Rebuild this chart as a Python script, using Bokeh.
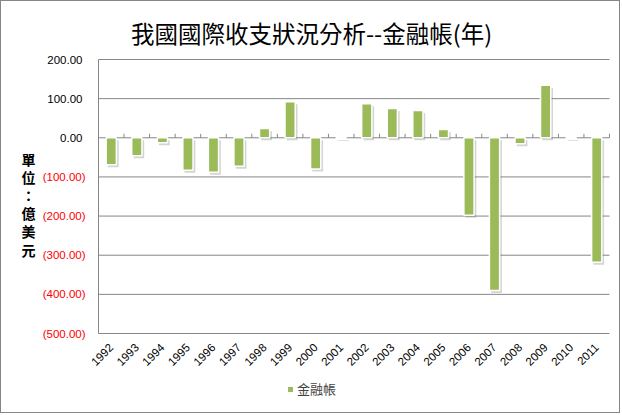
from bokeh.plotting import figure
from bokeh.models import Range1d, Legend, LegendItem
from bokeh.embed import file_html
from bokeh.resources import INLINE
from bokeh.core.properties import value
import math

years = ["1992", "1993", "1994", "1995", "1996", "1997", "1998", "1999", "2000", "2001",
         "2002", "2003", "2004", "2005", "2006", "2007", "2008", "2009", "2010", "2011"]
finance = [-69, -46, -13, -83, -88, -73, 24, 92, -80, -2,
           87, 75, 70, 21, -198, -390, -15, 134, -2, -318]
y_ticks = [200, 100, 0, -100, -200, -300, -400, -500]
y_tick_labels = ["200.00", "100.00", "0.00", "(100.00)", "(200.00)", "(300.00)", "(400.00)", "(500.00)"]
title_text = "我國國際收支狀況分析--金融帳(年)"
y_title = "單位：億美元"
series_name = "金融帳"

GREEN = "#9BBB59"
GRID = "#868686"
FONT = "Liberation Sans"
CJK = "Noto Sans CJK TC"

# canvas layout (pixels) of the plotting area
W, H = 620, 413
LEFT, RIGHT, TOP, BOTTOM = 97, 608, 58, 332
n = len(years)
ymax, ymin = max(y_ticks), min(y_ticks)
PX_X = (RIGHT - LEFT) / n
PX_Y = (BOTTOM - TOP) / (ymax - ymin)


def cx(px):
    return (px - LEFT) / PX_X


def cy(py):
    return ymax - (py - TOP) / PX_Y


p = figure(width=W, height=H, x_range=Range1d(cx(0), cx(W)), y_range=Range1d(cy(H), cy(0)),
           output_backend="svg", toolbar_location=None,
           x_axis_location=None, y_axis_location=None,
           min_border=0, min_border_left=0, min_border_right=0,
           min_border_top=0, min_border_bottom=0,
           background_fill_color="white", border_fill_color="white")
p.styles = {"border": "1px solid #868686"}
p.outline_line_color = None
p.xgrid.visible = False
p.ygrid.visible = False

# gridlines and axis line
p.segment(x0=[0] * len(y_ticks), x1=[n] * len(y_ticks), y0=y_ticks, y1=y_ticks,
          line_color=GRID, line_width=1)
p.segment(x0=[0], x1=[0], y0=[ymin], y1=[ymax], line_color=GRID, line_width=1)
bounds = list(range(1, n + 1))
p.segment(x0=bounds, y0=[0] * n, x1=bounds, y1=[4 / PX_Y] * n, line_color=GRID, line_width=1)

xs = [i + 0.5 for i in range(n)]
sh = 2.5 / PX_Y
src = dict(x=xs, sx=[x + 2 / PX_X for x in xs], v=finance, z=[0] * n,
           st=[max(v, 0) - sh for v in finance], sb=[min(v, 0) - sh for v in finance])

p.vbar(x="sx", top="st", bottom="sb", width=0.42, source=src,
       fill_color="#6f6f6f", fill_alpha=0.3, line_color=None)
bars = p.vbar(x="x", top="v", bottom="z", width=0.4, source=src,
              fill_color=GREEN, line_color="white", line_width=1.5)

# y tick labels (negatives in red with parentheses)
label_x = [cx(84) if t < 0 else cx(81) for t in y_ticks]
label_col = ["#FF0000" if t < 0 else "black" for t in y_ticks]
p.text(x=label_x, y=y_ticks, text=y_tick_labels, text_color=label_col,
       text_align="right", text_baseline="middle",
       text_font=value(FONT), text_font_size="11.5px")

# category labels
p.text(x=xs, y=[cy(344)] * n, text=years, angle=math.pi / 4,
       text_align="right", text_baseline="middle",
       text_font=value(FONT), text_font_size="11.5px", text_color="black")

# title
p.text(x=[cx(W / 2)], y=[cy(31)], text=[title_text], text_align="center",
       text_baseline="middle", text_font=value(CJK), text_font_size="23.5px",
       text_color="black")

# vertical y-axis title
p.text(x=[cx(27)], y=[cy(147)], text=["\n".join(y_title)], text_align="center",
       text_baseline="top", text_font=value(CJK), text_font_size="14px",
       text_font_style="bold", text_color="black", text_line_height=0.91)

legend = Legend(items=[LegendItem(label=series_name, renderers=[bars])],
                location=(285, 16), orientation="horizontal",
                glyph_width=8, glyph_height=8, label_height=14,
                label_text_font=CJK, label_text_font_size="13px",
                label_standoff=3, padding=0, margin=0,
                border_line_color=None, background_fill_alpha=0)
p.add_layout(legend, "center")

open("out.html", "w").write(file_html(p, INLINE))
